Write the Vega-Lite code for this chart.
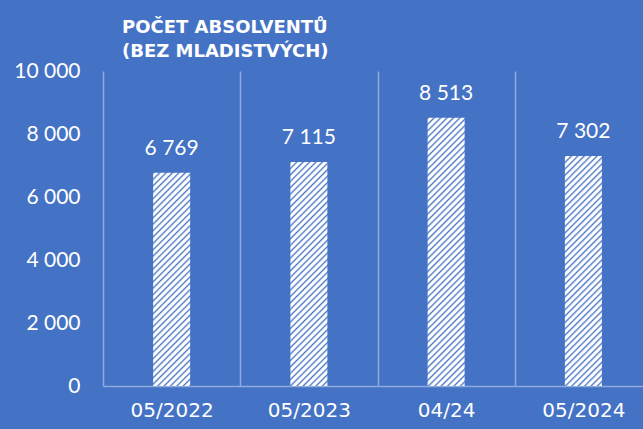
{
  "$schema": "https://vega.github.io/schema/vega-lite/v6.json",
  "width": 540,
  "height": 315,
  "autosize": {"type": "none"},
  "padding": {"left": 103, "top": 71, "right": 0, "bottom": 43},
  "background": "#4472c4",
  "params": [
    {"name": "stripes", "value": [
      {"offset": 0, "color": "#4d79c7"}, {"offset": 0.0073, "color": "#ffffff"}, {"offset": 0.0156, "color": "#ffffff"},
      {"offset": 0.0208, "color": "#4d79c7"}, {"offset": 0.0281, "color": "#ffffff"}, {"offset": 0.0365, "color": "#ffffff"},
      {"offset": 0.0417, "color": "#4d79c7"}, {"offset": 0.049, "color": "#ffffff"}, {"offset": 0.0573, "color": "#ffffff"},
      {"offset": 0.0625, "color": "#4d79c7"}, {"offset": 0.0698, "color": "#ffffff"}, {"offset": 0.0781, "color": "#ffffff"},
      {"offset": 0.0833, "color": "#4d79c7"}, {"offset": 0.0906, "color": "#ffffff"}, {"offset": 0.099, "color": "#ffffff"},
      {"offset": 0.1042, "color": "#4d79c7"}, {"offset": 0.1115, "color": "#ffffff"}, {"offset": 0.1198, "color": "#ffffff"},
      {"offset": 0.125, "color": "#4d79c7"}, {"offset": 0.1323, "color": "#ffffff"}, {"offset": 0.1406, "color": "#ffffff"},
      {"offset": 0.1458, "color": "#4d79c7"}, {"offset": 0.1531, "color": "#ffffff"}, {"offset": 0.1615, "color": "#ffffff"},
      {"offset": 0.1667, "color": "#4d79c7"}, {"offset": 0.174, "color": "#ffffff"}, {"offset": 0.1823, "color": "#ffffff"},
      {"offset": 0.1875, "color": "#4d79c7"}, {"offset": 0.1948, "color": "#ffffff"}, {"offset": 0.2031, "color": "#ffffff"},
      {"offset": 0.2083, "color": "#4d79c7"}, {"offset": 0.2156, "color": "#ffffff"}, {"offset": 0.224, "color": "#ffffff"},
      {"offset": 0.2292, "color": "#4d79c7"}, {"offset": 0.2365, "color": "#ffffff"}, {"offset": 0.2448, "color": "#ffffff"},
      {"offset": 0.25, "color": "#4d79c7"}, {"offset": 0.2573, "color": "#ffffff"}, {"offset": 0.2656, "color": "#ffffff"},
      {"offset": 0.2708, "color": "#4d79c7"}, {"offset": 0.2781, "color": "#ffffff"}, {"offset": 0.2865, "color": "#ffffff"},
      {"offset": 0.2917, "color": "#4d79c7"}, {"offset": 0.299, "color": "#ffffff"}, {"offset": 0.3073, "color": "#ffffff"},
      {"offset": 0.3125, "color": "#4d79c7"}, {"offset": 0.3198, "color": "#ffffff"}, {"offset": 0.3281, "color": "#ffffff"},
      {"offset": 0.3333, "color": "#4d79c7"}, {"offset": 0.3406, "color": "#ffffff"}, {"offset": 0.349, "color": "#ffffff"},
      {"offset": 0.3542, "color": "#4d79c7"}, {"offset": 0.3615, "color": "#ffffff"}, {"offset": 0.3698, "color": "#ffffff"},
      {"offset": 0.375, "color": "#4d79c7"}, {"offset": 0.3823, "color": "#ffffff"}, {"offset": 0.3906, "color": "#ffffff"},
      {"offset": 0.3958, "color": "#4d79c7"}, {"offset": 0.4031, "color": "#ffffff"}, {"offset": 0.4115, "color": "#ffffff"},
      {"offset": 0.4167, "color": "#4d79c7"}, {"offset": 0.424, "color": "#ffffff"}, {"offset": 0.4323, "color": "#ffffff"},
      {"offset": 0.4375, "color": "#4d79c7"}, {"offset": 0.4448, "color": "#ffffff"}, {"offset": 0.4531, "color": "#ffffff"},
      {"offset": 0.4583, "color": "#4d79c7"}, {"offset": 0.4656, "color": "#ffffff"}, {"offset": 0.474, "color": "#ffffff"},
      {"offset": 0.4792, "color": "#4d79c7"}, {"offset": 0.4865, "color": "#ffffff"}, {"offset": 0.4948, "color": "#ffffff"},
      {"offset": 0.5, "color": "#4d79c7"}, {"offset": 0.5073, "color": "#ffffff"}, {"offset": 0.5156, "color": "#ffffff"},
      {"offset": 0.5208, "color": "#4d79c7"}, {"offset": 0.5281, "color": "#ffffff"}, {"offset": 0.5365, "color": "#ffffff"},
      {"offset": 0.5417, "color": "#4d79c7"}, {"offset": 0.549, "color": "#ffffff"}, {"offset": 0.5573, "color": "#ffffff"},
      {"offset": 0.5625, "color": "#4d79c7"}, {"offset": 0.5698, "color": "#ffffff"}, {"offset": 0.5781, "color": "#ffffff"},
      {"offset": 0.5833, "color": "#4d79c7"}, {"offset": 0.5906, "color": "#ffffff"}, {"offset": 0.599, "color": "#ffffff"},
      {"offset": 0.6042, "color": "#4d79c7"}, {"offset": 0.6115, "color": "#ffffff"}, {"offset": 0.6198, "color": "#ffffff"},
      {"offset": 0.625, "color": "#4d79c7"}, {"offset": 0.6323, "color": "#ffffff"}, {"offset": 0.6406, "color": "#ffffff"},
      {"offset": 0.6458, "color": "#4d79c7"}, {"offset": 0.6531, "color": "#ffffff"}, {"offset": 0.6615, "color": "#ffffff"},
      {"offset": 0.6667, "color": "#4d79c7"}, {"offset": 0.674, "color": "#ffffff"}, {"offset": 0.6823, "color": "#ffffff"},
      {"offset": 0.6875, "color": "#4d79c7"}, {"offset": 0.6948, "color": "#ffffff"}, {"offset": 0.7031, "color": "#ffffff"},
      {"offset": 0.7083, "color": "#4d79c7"}, {"offset": 0.7156, "color": "#ffffff"}, {"offset": 0.724, "color": "#ffffff"},
      {"offset": 0.7292, "color": "#4d79c7"}, {"offset": 0.7365, "color": "#ffffff"}, {"offset": 0.7448, "color": "#ffffff"},
      {"offset": 0.75, "color": "#4d79c7"}, {"offset": 0.7573, "color": "#ffffff"}, {"offset": 0.7656, "color": "#ffffff"},
      {"offset": 0.7708, "color": "#4d79c7"}, {"offset": 0.7781, "color": "#ffffff"}, {"offset": 0.7865, "color": "#ffffff"},
      {"offset": 0.7917, "color": "#4d79c7"}, {"offset": 0.799, "color": "#ffffff"}, {"offset": 0.8073, "color": "#ffffff"},
      {"offset": 0.8125, "color": "#4d79c7"}, {"offset": 0.8198, "color": "#ffffff"}, {"offset": 0.8281, "color": "#ffffff"},
      {"offset": 0.8333, "color": "#4d79c7"}, {"offset": 0.8406, "color": "#ffffff"}, {"offset": 0.849, "color": "#ffffff"},
      {"offset": 0.8542, "color": "#4d79c7"}, {"offset": 0.8615, "color": "#ffffff"}, {"offset": 0.8698, "color": "#ffffff"},
      {"offset": 0.875, "color": "#4d79c7"}, {"offset": 0.8823, "color": "#ffffff"}, {"offset": 0.8906, "color": "#ffffff"},
      {"offset": 0.8958, "color": "#4d79c7"}, {"offset": 0.9031, "color": "#ffffff"}, {"offset": 0.9115, "color": "#ffffff"},
      {"offset": 0.9167, "color": "#4d79c7"}, {"offset": 0.924, "color": "#ffffff"}, {"offset": 0.9323, "color": "#ffffff"},
      {"offset": 0.9375, "color": "#4d79c7"}, {"offset": 0.9448, "color": "#ffffff"}, {"offset": 0.9531, "color": "#ffffff"},
      {"offset": 0.9583, "color": "#4d79c7"}, {"offset": 0.9656, "color": "#ffffff"}, {"offset": 0.974, "color": "#ffffff"},
      {"offset": 0.9792, "color": "#4d79c7"}, {"offset": 0.9865, "color": "#ffffff"}, {"offset": 0.9948, "color": "#ffffff"},
      {"offset": 1, "color": "#4d79c7"}
    ]}
  ],
  "title": {
    "text": ["POČET ABSOLVENTŮ", "(BEZ MLADISTVÝCH)"],
    "anchor": "start",
    "frame": "group",
    "dx": 19,
    "dy": 9,
    "offset": 8,
    "color": "#ffffff",
    "font": "DejaVu Sans",
    "fontSize": 18,
    "fontWeight": "bold",
    "lineHeight": 24
  },
  "data": {
    "values": [
      {"d": "05/2022", "v": 6769},
      {"d": "05/2023", "v": 7115},
      {"d": "04/24", "v": 8513},
      {"d": "05/2024", "v": 7302}
    ]
  },
  "encoding": {
    "x": {
      "field": "d",
      "type": "nominal",
      "sort": null,
      "scale": {"range": [0, 549], "paddingInner": 0, "paddingOuter": 0},
      "axis": {
        "title": null,
        "labelAngle": 0,
        "labelColor": "#ffffff",
        "labelFont": "DejaVu Sans",
        "labelFontSize": 20,
        "labelPadding": 14,
        "ticks": false,
        "tickSize": 0,
        "domainColor": "#8faadc",
        "domainWidth": 1.5,
        "grid": true,
        "gridColor": "#8faadc",
        "gridWidth": 1.5,
        "tickBand": "extent"
      }
    },
    "y": {
      "field": "v",
      "type": "quantitative",
      "scale": {"domain": [0, 10000]},
      "axis": {
        "title": null,
        "domain": false,
        "ticks": false,
        "tickSize": 0,
        "grid": false,
        "values": [0, 2000, 4000, 6000, 8000, 10000],
        "labelExpr": "format(datum.value, ',')",
        "labelColor": "#ffffff",
        "labelFont": "Lato",
        "labelFontSize": 21,
        "labelPadding": 23
      }
    }
  },
  "layer": [
    {
      "mark": {"type": "bar", "width": 37},
      "encoding": {
        "fill": {
          "field": "d",
          "type": "nominal",
          "sort": null,
          "legend": null,
          "scale": {
            "domain": ["05/2022", "05/2023", "04/24", "05/2024"],
            "range": [
              {"expr": "{gradient: 'linear', x1: 0, y1: 0, x2: 0.24271, y2: 1.39864, stops: stripes}"},
              {"expr": "{gradient: 'linear', x1: 0, y1: 0, x2: 0.22028, y2: 1.33432, stops: stripes}"},
              {"expr": "{gradient: 'linear', x1: 0, y1: 0, x2: 0.15511, y2: 1.12418, stops: stripes}"},
              {"expr": "{gradient: 'linear', x1: 0, y1: 0, x2: 0.20943, y2: 1.3019, stops: stripes}"}
            ]
          }
        }
      }
    },
    {
      "mark": {"type": "text", "baseline": "alphabetic", "dy": -18, "color": "#ffffff", "font": "Lato", "fontSize": 21},
      "encoding": {
        "text": {"field": "v", "type": "quantitative", "format": ","}
      }
    }
  ],
  "config": {
    "view": {"stroke": null},
    "locale": {"number": {"decimal": ",", "thousands": " ", "grouping": [3], "currency": ["", " Kč"]}}
  }
}
